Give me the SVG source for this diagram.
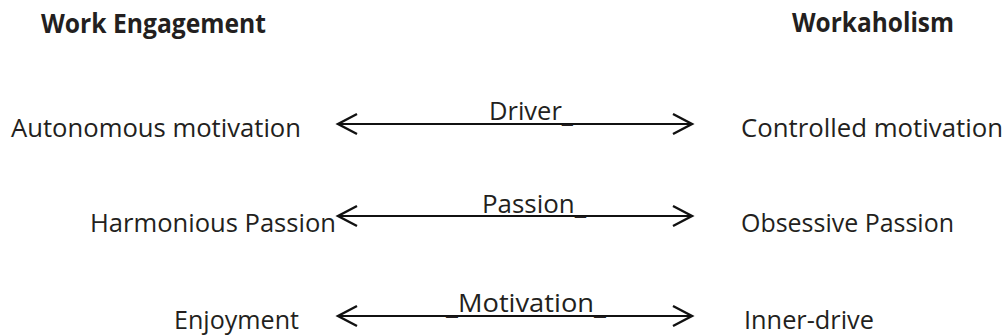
<svg xmlns="http://www.w3.org/2000/svg" width="1006" height="336" viewBox="0 0 1006 336">
  <style>
    text { font-family: "Open Sans", "Noto Sans", "Liberation Sans", sans-serif; fill: #231f20; font-size: 26px; }
    .head { font-weight: bold; }
    .conn { stroke: #111; stroke-width: 2; fill: none; }
  </style>
  <defs>
    <marker id="chev" markerUnits="userSpaceOnUse" markerWidth="30" markerHeight="30" viewBox="-25 -15 30 30" refX="0" refY="0" orient="auto-start-reverse" overflow="visible">
      <path d="M -19 -10 L 0 0 L -19 10" fill="none" stroke="#111" stroke-width="2.4" stroke-linejoin="miter" stroke-linecap="butt"/>
    </marker>
  </defs>
  <rect width="1006" height="336" fill="#ffffff"/>

  <g id="header-work-engagement"><text class="head" x="41" y="33" textLength="225" lengthAdjust="spacingAndGlyphs">Work Engagement</text></g>
  <g id="header-workaholism"><text class="head" x="792" y="32" textLength="162" lengthAdjust="spacingAndGlyphs">Workaholism</text></g>

  <g id="node-autonomous"><text x="11" y="137" textLength="290" lengthAdjust="spacingAndGlyphs">Autonomous motivation</text></g>
  <g id="node-harmonious"><text x="90" y="232" textLength="246" lengthAdjust="spacingAndGlyphs">Harmonious Passion</text></g>
  <g id="node-enjoyment"><text x="174" y="329" textLength="125" lengthAdjust="spacingAndGlyphs">Enjoyment</text></g>

  <g id="node-controlled"><text x="741" y="137" textLength="262" lengthAdjust="spacingAndGlyphs">Controlled motivation</text></g>
  <g id="node-obsessive"><text x="741" y="232" textLength="213" lengthAdjust="spacingAndGlyphs">Obsessive Passion</text></g>
  <g id="node-innerdrive"><text x="744" y="329" textLength="130" lengthAdjust="spacingAndGlyphs">Inner-drive</text></g>

  <g id="connectors">
    <line class="conn" x1="338" y1="124" x2="692" y2="124" marker-start="url(#chev)" marker-end="url(#chev)"/>
    <line class="conn" x1="338" y1="216" x2="692" y2="216" marker-start="url(#chev)" marker-end="url(#chev)"/>
    <line class="conn" x1="338" y1="316" x2="692" y2="316" marker-start="url(#chev)" marker-end="url(#chev)"/>
    <text x="489" y="120" textLength="84" lengthAdjust="spacingAndGlyphs">Driver<tspan dy="2">_</tspan></text>
    <text x="482" y="213" textLength="104" lengthAdjust="spacingAndGlyphs">Passion<tspan dy="1">_</tspan></text>
    <text x="446" y="312" textLength="160" lengthAdjust="spacingAndGlyphs"><tspan dy="2">_</tspan><tspan dy="-2">Motivation</tspan><tspan dy="2">_</tspan></text>
  </g>
</svg>
